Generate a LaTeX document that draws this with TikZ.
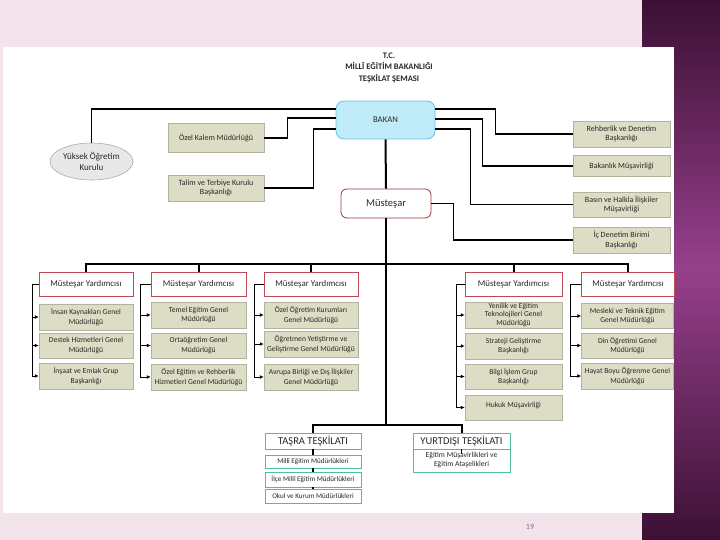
\documentclass[tikz,border=0pt]{standalone}
\usepackage{fontspec}
\setmainfont{Carlito}
\usetikzlibrary{shapes.geometric,arrows.meta}
\definecolor{bgpink}{RGB}{243,228,236}
\definecolor{purpdark}{RGB}{60,16,52}
\definecolor{purpmid}{RGB}{150,64,140}
\definecolor{olivefill}{RGB}{221,221,197}
\definecolor{olivedraw}{RGB}{178,178,160}
\definecolor{redb}{RGB}{192,72,80}
\definecolor{cyanfill}{RGB}{192,236,250}
\definecolor{cyandraw}{RGB}{110,196,226}
\definecolor{greenb}{RGB}{80,190,150}
\definecolor{yokfill}{RGB}{232,232,232}
\definecolor{yokdraw}{RGB}{170,170,170}
\definecolor{txt}{RGB}{40,40,40}
\definecolor{pagenum}{RGB}{140,100,140}
\begin{document}
\begin{tikzpicture}[x=1pt,y=-1pt,
  box/.style={rectangle, fill=olivefill, draw=olivedraw, line width=0.5pt, align=center, text=txt, font=\fontsize{7.6}{9.4}\selectfont, inner sep=0.3pt},
  bigbox/.style={box, font=\fontsize{8}{9.8}\selectfont},
  mybox/.style={rectangle, fill=white, draw=redb, line width=0.7pt, align=center, text=txt, font=\fontsize{8.8}{10}\selectfont, minimum height=24pt, inner sep=0.3pt},
  gbox/.style={rectangle, fill=white, draw=greenb, line width=0.9pt, align=center, text=txt, font=\fontsize{10.5}{11}\selectfont, minimum height=16pt, inner sep=0.3pt},
  gsub/.style={rectangle, fill=white, draw=greenb, line width=0.5pt, align=center, text=txt, font=\fontsize{7.1}{8}\selectfont, inner sep=0.3pt},
  ysub/.style={gsub, font=\fontsize{7.6}{9}\selectfont},
  conn/.style={line width=1.2pt, black},
  busline/.style={line width=2pt, black},
  arr/.style={-{Latex[length=4pt,width=4pt]}, line width=0.9pt, black}
]
\fill[bgpink] (0,0) rectangle (720,540);
\shade[top color=purpdark, bottom color=purpdark, middle color=purpmid] (642,0) rectangle (720,540);
\fill[white] (3,47) rectangle (674,513);
\useasboundingbox (0,0) rectangle (720,540);

% title
\node[font=\bfseries\fontsize{8.5}{11.5}\selectfont, align=center, text=txt] (title) at (389,67.5) {T.C.\\MİLLÎ EĞİTİM BAKANLIĞI\\TEŞKİLAT ŞEMASI};

% top nodes
\node[rectangle, rounded corners=8pt, fill=cyanfill, draw=cyandraw, line width=0.8pt, minimum width=99pt, minimum height=38pt, font=\fontsize{8.7}{10}\selectfont, text=txt] (bakan) at (385.5,120) {BAKAN};
\node[rectangle, rounded corners=6pt, fill=white, draw=redb!80!black, line width=0.8pt, minimum width=90pt, minimum height=29pt, font=\fontsize{10.5}{11}\selectfont, text=txt] (mustesar) at (386,203.5) {Müsteşar};
\node[ellipse, fill=yokfill, draw=yokdraw, line width=0.6pt, minimum width=83pt, minimum height=37pt, inner sep=0pt, align=center, font=\fontsize{9}{10.5}\selectfont, text=txt] (yok) at (91.5,161.5) {Yüksek Öğretim\\Kurulu};
\node[bigbox, minimum width=96pt, minimum height=29pt] (ozel) at (216,138) {Özel Kalem Müdürlüğü};
\node[bigbox, minimum width=96pt, minimum height=26pt] (talim) at (216,188) {Talim ve Terbiye Kurulu\\Başkanlığı};
\node[bigbox, minimum width=97pt, minimum height=26pt] (reh) at (621.5,134) {Rehberlik ve Denetim\\Başkanlığı};
\node[bigbox, minimum width=97pt, minimum height=21pt] (bmus) at (621.5,166) {Bakanlık Müşavirliği};
\node[bigbox, minimum width=97pt, minimum height=25pt] (basin) at (621.5,204.5) {Basın ve Halkla İlişkiler\\Müşavirliği};
\node[bigbox, minimum width=97pt, minimum height=26pt] (icden) at (621.5,240) {İç Denetim Birimi\\Başkanlığı};

% top connectors
\draw[conn] ([yshift=11pt]bakan.west) -| (yok.north);
\draw[conn] ([yshift=2pt]bakan.west) -| ([xshift=23pt]ozel.east) -- (ozel.east);
\draw[conn] ([yshift=-9pt]bakan.west) -| ([xshift=49pt]talim.east) -- (talim.east);
\draw[conn] ([yshift=11pt]bakan.east) -| ([xshift=-77pt]reh.west) -- (reh.west);
\draw[conn] ([yshift=1pt]bakan.east) -| ([xshift=-90pt]bmus.west) -- (bmus.west);
\draw[conn] ([yshift=-9pt]bakan.east) -| ([xshift=-102pt]basin.west) -- (basin.west);
\draw[conn] (mustesar.east) -| ([xshift=-119pt]icden.west) -- (icden.west);
\draw[busline] (bakan.south) -- (mustesar.north);

% Müsteşar Yardımcısı
\node[mybox, minimum width=94pt] (my1) at (86,284) {Müsteşar Yardımcısı};
\node[mybox, minimum width=95pt] (my2) at (198.5,284) {Müsteşar Yardımcısı};
\node[mybox, minimum width=94pt] (my3) at (311,284) {Müsteşar Yardımcısı};
\node[mybox, minimum width=97pt] (my4) at (513.5,284) {Müsteşar Yardımcısı};
\node[mybox, minimum width=93pt] (my5) at (628,284) {Müsteşar Yardımcısı};

\coordinate (bus) at (386,264);
\coordinate (tbus) at (386,425);
\draw[busline] (mustesar.south) -- (tbus);
\draw[busline] (my1.north) -- (my1.north |- bus) -- (my5.north |- bus) -- (my5.north);
\draw[busline] (my2.north) -- (my2.north |- bus);
\draw[busline] (my3.north) -- (my3.north |- bus);
\draw[busline] (my4.north) -- (my4.north |- bus);

% column 1
\node[box, minimum width=94pt, minimum height=26pt] (ik) at (86,317) {İnsan Kaynakları Genel\\Müdürlüğü};
\node[box, minimum width=94pt, minimum height=25pt] (dh) at (86,345.5) {Destek Hizmetleri Genel\\Müdürlüğü};
\node[box, minimum width=94pt, minimum height=26pt] (ie) at (86,376) {İnşaat ve Emlak Grup\\Başkanlığı};
\foreach \b in {ik,dh,ie} \draw[arr] (my1.west) -- ++(-6,0) |- (\b.west);

% column 2
\node[box, minimum width=95pt, minimum height=26pt] (te) at (198.5,315) {Temel Eğitim Genel\\Müdürlüğü};
\node[box, minimum width=95pt, minimum height=25pt] (oo) at (198.5,345.5) {Ortaöğretim Genel\\Müdürlüğü};
\node[box, minimum width=95pt, minimum height=26pt] (oe) at (198.5,377) {Özel Eğitim ve Rehberlik\\Hizmetleri Genel Müdürlüğü};
\foreach \b in {te,oo,oe} \draw[arr] (my2.west) -- ++(-10,0) |- (\b.west);

% column 3
\node[box, minimum width=94pt, minimum height=26pt] (ook) at (311,315) {Özel Öğretim Kurumları\\Genel Müdürlüğü};
\node[box, minimum width=94pt, minimum height=26pt] (oy) at (311,344) {Öğretmen Yetiştirme ve\\Geliştirme Genel Müdürlüğü};
\node[box, minimum width=94pt, minimum height=26pt] (ab) at (311,377) {Avrupa Birliği ve Dış İlişkiler\\Genel Müdürlüğü};
\foreach \b in {ook,oy,ab} \draw[arr] (my3.west) -- ++(-9,0) |- (\b.west);

% column 4
\node[box, minimum width=97pt, minimum height=26pt, font=\fontsize{7.6}{8.4}\selectfont] (ye) at (513.5,315) {Yenilik ve Eğitim\\Teknolojileri Genel\\Müdürlüğü};
\node[box, minimum width=97pt, minimum height=26pt] (sg) at (513.5,346) {Strateji Geliştirme\\Başkanlığı};
\node[box, minimum width=97pt, minimum height=25pt] (bi) at (513.5,376.5) {Bilgi İşlem Grup\\Başkanlığı};
\node[box, minimum width=97pt, minimum height=25pt, text depth=6pt] (hm) at (513.5,407.5) {Hukuk Müşavirliği};
\foreach \b in {ye,sg,bi,hm} \draw[arr] (my4.west) -- ++(-8,0) |- (\b.west);

% column 5
\node[box, minimum width=92pt, minimum height=25pt] (mt) at (627.5,316) {Mesleki ve Teknik Eğitim\\Genel Müdürlüğü};
\node[box, minimum width=92pt, minimum height=25pt] (do) at (627.5,345.5) {Din Öğretimi Genel\\Müdürlüğü};
\node[box, minimum width=92pt, minimum height=26pt] (hb) at (627.5,376) {Hayat Boyu Öğrenme Genel\\Müdürlüğü};
\foreach \b in {mt,do,hb} \draw[arr] (my5.west) -- ++(-11,0) |- (\b.west);

% bottom: Taşra & Yurtdışı
\node[gbox, minimum width=96pt] (tasra) at (313,441) {TAŞRA TEŞKİLATI};
\node[gsub, minimum width=96pt, minimum height=13pt] (mem) at (313,461.5) {Millî Eğitim Müdürlükleri};
\node[gsub, minimum width=96pt, minimum height=15pt] (ilce) at (313,479.5) {İlçe Millî Eğitim Müdürlükleri};
\node[gsub, minimum width=96pt, minimum height=14pt] (okul) at (313,496.5) {Okul ve Kurum Müdürlükleri};
\draw[conn] (tasra.south) -- (mem.north);
\draw[conn] (mem.south) -- (ilce.north);
\draw[conn] (ilce.south) -- (okul.north);

\node[gbox, minimum width=97pt] (yurtH) at (461.5,441) {YURTDIŞI TEŞKİLATI};
\node[ysub, minimum width=97pt, minimum height=23pt] (yurtS) at (461.5,460.5) {Eğitim Müşavirlikleri ve\\Eğitim Ataşelikleri};
\coordinate (yt) at (461.5,454);
\draw[conn] (yurtH.south) -- (yt);

\draw[busline] (tasra.north) |- (tbus) -| (yurtH.north);

\node[font=\fontsize{8}{9}\selectfont, text=pagenum] (pg) at (530,527) {19};
\end{tikzpicture}
\end{document}
